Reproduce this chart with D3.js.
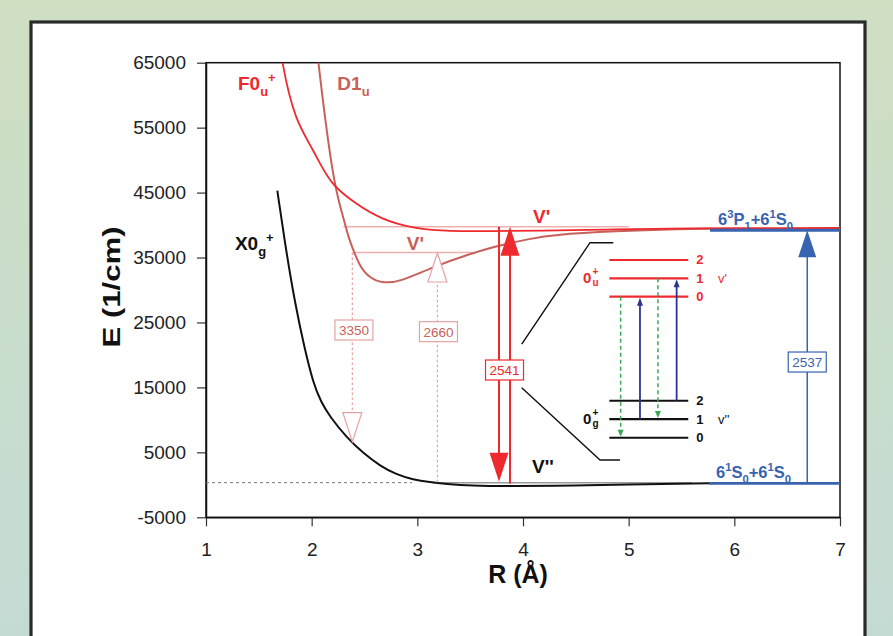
<!DOCTYPE html>
<html><head><meta charset="utf-8">
<script src="https://cdn.jsdelivr.net/npm/d3@7"></script>
<style>
html,body{margin:0;padding:0;}
body{width:893px;height:636px;overflow:hidden;background:linear-gradient(#cfdfc2,#c4dbd4);}
svg{display:block;font-family:"Liberation Sans",Arial,sans-serif;}
</style></head><body>
<svg id="c" width="893" height="636"></svg>
<script>
// ---------- data ----------
const xTicks = [1,2,3,4,5,6,7];
const yTicks = [-5000,5000,15000,25000,35000,45000,55000,65000];

// potential curves (R in Å, E in 1/cm)
const curveX0g = [[1.675,45300],[1.757,36150],[1.842,28000],[1.93,21200],[2.015,15630],[2.09,12700],[2.173,10490],[2.33,7300],[2.49,4850],[2.65,2900],[2.80,1600],[2.96,800],[3.12,400],[3.27,150],[3.5,-150],[3.9,-220],[4.5,-120],[5.0,60],[5.5,180],[5.8,240]];
const curveD1u = [[2.04,69000],[2.062,64900],[2.204,46430],[2.299,41290],[2.346,38200],[2.394,36160],[2.457,33580],[2.552,31800],[2.678,31050],[2.836,31250],[3.151,33580],[3.467,35390],[3.782,36930],[4.097,37960],[4.255,38470],[4.886,39080],[5.49,39390],[5.8,39450]];
const curveF0u = [[1.70,69000],[1.726,64900],[1.853,56700],[2.011,51560],[2.20,46430],[2.42,43350],[2.67,41040],[2.96,39650],[3.27,39130],[3.7,39080],[4.2,39150],[4.8,39300],[5.4,39450],[6.0,39520],[7.0,39550]];

// vibrational levels drawn on D1u well
const levelsD1u = [{E:39740,R0:2.30,R1:5.0},{E:35770,R0:2.39,R1:3.53}];
const groundLevel = {E:330,R0:3.15,R1:5.6};
const zeroLine = {E:330,R0:1,R1:2.95};

// atomic asymptotes
const asymptotes = [{E:39200,R0:5.77,R1:7},{E:230,R0:5.76,R1:7}];

// transitions (arrows)
const solidArrows = [
  {R:3.773,E0:39740,E1:480,color:"red"},
  {R:3.877,E0:200,E1:39740,color:"red"},
  {R:6.69,E0:230,E1:39200,color:"blue"}
];
const openArrows = [
  {R:2.385,E0:35770,E1:6640},
  {R:3.19,E0:400,E1:35700}
];
const boxLabels = [
  {t:"3350",R:2.40,E:23840,color:"muted"},
  {t:"2660",R:3.20,E:23580,color:"muted"},
  {t:"2541",R:3.825,E:17680,color:"red"},
  {t:"2537",R:6.69,E:18910,color:"blue"}
];

// inset level diagram
const insetR = [4.817,5.564];
const insetUpper = [{v:"2",E:34620},{v:"1",E:31800},{v:"0",E:28970}];
const insetLower = [{v:"2",E:12950},{v:"1",E:10130},{v:"0",E:7250}];
const pumpArrows = [{R:5.107,E0:10130,E1:28970},{R:5.454,E0:12950,E1:31800}];
const fluorArrows = [{R:4.924,E0:28970,E1:7250},{R:5.277,E0:31800,E1:10130}];
const connectors = [
  [[3.988,21680],[4.634,37280],[4.854,37280]],
  [[3.988,14950],[4.729,3820],[4.918,3820]]
];

// ---------- setup ----------
const col = {red:"#ee2a2e",muted:"#c8605b",pink:"#f0afaf",blue:"#3763b1",navy:"#2c3592",green:"#3aa955",dot:"#e8a0a0",boxMuted:"#e3a3a3"};
const svg = d3.select("#c");
const x = d3.scaleLinear().domain([1,7]).range([206,840]);
const y = d3.scaleLinear().domain([-5000,65000]).range([517.3,62.7]);

// outer panel
svg.append("rect").attr("x",31).attr("y",22).attr("width",834).attr("height",640)
  .attr("fill","#fff").attr("stroke","#2a2a2a").attr("stroke-width",3.2);

svg.append("defs").append("clipPath").attr("id","clip").append("rect")
  .attr("x",x(1)).attr("y",y(65000)).attr("width",x(7)-x(1)).attr("height",y(-5000)-y(65000));

// axes
const yAxis = d3.axisLeft(y).tickValues(yTicks).tickSize(9).tickSizeOuter(0).tickPadding(11).tickFormat(d=>String(d));
const xAxis = d3.axisBottom(x).tickValues(xTicks).tickSize(9).tickSizeOuter(0).tickPadding(16).tickFormat(d=>String(d));
const gy = svg.append("g").attr("transform",`translate(${x(1)},0)`).call(yAxis);
const gx = svg.append("g").attr("transform",`translate(0,${y(-5000)})`).call(xAxis);
[gx,gy].forEach(g=>{
  g.selectAll("text").attr("font-size",19).attr("fill","#222").attr("font-family","Liberation Sans, Arial, sans-serif");
  g.selectAll("line").attr("stroke","#333").attr("stroke-width",1.2);
  g.select(".domain").attr("stroke","#111").attr("stroke-width",1.5);
});
svg.append("rect").attr("x",x(1)).attr("y",y(65000)).attr("width",x(7)-x(1)).attr("height",y(-5000)-y(65000))
  .attr("fill","none").attr("stroke","#111").attr("stroke-width",1.5);

svg.append("text").attr("x",518).attr("y",583).attr("text-anchor","middle")
  .attr("font-size",25).attr("font-weight","bold").attr("fill","#111").text("R (Å)");
svg.append("text").attr("transform","translate(120,287) rotate(-90)").attr("text-anchor","middle")
  .attr("font-size",23).attr("font-weight","bold").attr("fill","#111")
  .attr("textLength",121).attr("lengthAdjust","spacingAndGlyphs").text("E (1/cm)");

const plot = svg.append("g").attr("clip-path","url(#clip)");
const line = d3.line().x(d=>x(d[0])).y(d=>y(d[1]));
const smooth = d3.line().x(d=>x(d[0])).y(d=>y(d[1])).curve(d3.curveCatmullRom.alpha(0.5));
const soft = d3.line().x(d=>x(d[0])).y(d=>y(d[1])).curve(d3.curveBasis);

// zero dashed line
plot.append("line").attr("x1",x(zeroLine.R0)).attr("x2",x(zeroLine.R1)).attr("y1",y(zeroLine.E)).attr("y2",y(zeroLine.E))
  .attr("stroke","#777").attr("stroke-width",1).attr("stroke-dasharray","3,3");
// ground level
plot.append("line").attr("x1",x(groundLevel.R0)).attr("x2",x(groundLevel.R1)).attr("y1",y(groundLevel.E)).attr("y2",y(groundLevel.E))
  .attr("stroke","#999").attr("stroke-width",1.4);
// D1u levels
plot.selectAll(".lev").data(levelsD1u).enter().append("line")
  .attr("x1",d=>x(d.R0)).attr("x2",d=>x(d.R1)).attr("y1",d=>y(d.E)).attr("y2",d=>y(d.E))
  .attr("stroke",col.pink).attr("stroke-width",1.6);

// curves
plot.append("path").attr("d",soft(curveX0g)).attr("fill","none").attr("stroke","#111").attr("stroke-width",2);
plot.append("path").attr("d",soft(curveD1u)).attr("fill","none").attr("stroke",col.muted).attr("stroke-width",2);
plot.append("path").attr("d",smooth(curveF0u)).attr("fill","none").attr("stroke",col.red).attr("stroke-width",1.8);

// asymptotes
plot.selectAll(".asy").data(asymptotes).enter().append("line")
  .attr("x1",d=>x(d.R0)).attr("x2",d=>x(d.R1)).attr("y1",d=>y(d.E)).attr("y2",d=>y(d.E))
  .attr("stroke",col.blue).attr("stroke-width",2.8);

// solid arrows
function tri(tx,ty,w,h,dir){ // dir=+1 points down, -1 up
  return `M${tx},${ty}L${tx-w/2},${ty-dir*h}L${tx+w/2},${ty-dir*h}Z`;
}
solidArrows.forEach(a=>{
  const c = a.color==="blue"?col.blue:col.red;
  const dir = a.E1<a.E0?1:-1;
  const h = a.color==="blue"?27:29, w = a.color==="blue"?18:19;
  plot.append("line").attr("x1",x(a.R)).attr("x2",x(a.R)).attr("y1",y(a.E0)).attr("y2",y(a.E1)-dir*h+dir*2)
    .attr("stroke",c).attr("stroke-width",a.color==="blue"?1.5:2);
  plot.append("path").attr("d",tri(x(a.R),y(a.E1),w,h,dir)).attr("fill",c);
});
// open arrows (dotted)
openArrows.forEach(a=>{
  const dir = a.E1<a.E0?1:-1;
  plot.append("line").attr("x1",x(a.R)).attr("x2",x(a.R)).attr("y1",y(a.E0)).attr("y2",y(a.E1)-dir*29)
    .attr("stroke",col.dot).attr("stroke-width",1.2).attr("stroke-dasharray","2.5,2.5");
  plot.append("path").attr("d",tri(x(a.R),y(a.E1),19,29,dir)).attr("fill","#fff")
    .attr("stroke",col.boxMuted).attr("stroke-width",1.2);
});
// box labels
const boxCol = {muted:[col.boxMuted,col.muted],red:[col.red,col.red],blue:[col.blue,col.blue]};
boxLabels.forEach(b=>{
  const [sc,tc] = boxCol[b.color];
  const cx = x(b.R), cy = y(b.E);
  svg.append("rect").attr("x",cx-19).attr("y",cy-10).attr("width",38).attr("height",20)
    .attr("fill","#fff").attr("stroke",sc).attr("stroke-width",1.2);
  svg.append("text").attr("x",cx).attr("y",cy+5).attr("text-anchor","middle")
    .attr("font-size",13.5).attr("fill",tc).text(b.t);
});

// rich text helper
function rich(px,py,parts,size,color,weight){
  const t = svg.append("text").attr("x",px).attr("y",py).attr("fill",color)
    .attr("font-size",size).attr("font-weight",weight||"bold");
  let shift=0;
  parts.forEach(p=>{
    const target = p.sub? size*0.3 : p.sup? -size*0.42 : 0;
    const ts = t.append("tspan").attr("dy",target-shift).text(p.t);
    shift = target;
    if(p.sub||p.sup) ts.attr("font-size",size*0.68);
  });
  return t;
}
rich(x(1.303),y(60780),[{t:"F0"},{t:"u",sub:1},{t:"+",sup:1}],19,col.red);
rich(x(2.243),y(60780),[{t:"D1"},{t:"u",sub:1}],19,col.muted);
rich(x(1.274),y(36160),[{t:"X0"},{t:"g",sub:1},{t:"+",sup:1}],19,"#111");
rich(x(2.90),y(36230),[{t:"V'"}],19,col.muted);
rich(x(4.095),y(40310),[{t:"V'"}],19,col.red);
rich(x(4.085),y(1820),[{t:"V''"}],19,"#111");
rich(x(5.845),y(40000),[{t:"6"},{t:"3",sup:1},{t:"P"},{t:"1",sub:1},{t:"+6"},{t:"1",sup:1},{t:"S"},{t:"0",sub:1}],16.5,col.blue);
rich(x(5.826),y(1050),[{t:"6"},{t:"1",sup:1},{t:"S"},{t:"0",sub:1},{t:"+6"},{t:"1",sup:1},{t:"S"},{t:"0",sub:1}],16.5,col.blue);

// ---------- inset ----------
const inset = svg.append("g");
connectors.forEach(c=>inset.append("path").attr("d",line(c)).attr("fill","none").attr("stroke","#111").attr("stroke-width",1.4));
[[insetUpper,col.red],[insetLower,"#111"]].forEach(([lv,c])=>{
  lv.forEach(l=>{
    inset.append("line").attr("x1",x(insetR[0])).attr("x2",x(insetR[1])).attr("y1",y(l.E)).attr("y2",y(l.E))
      .attr("stroke",c).attr("stroke-width",2.2);
    inset.append("text").attr("x",x(insetR[1])+8).attr("y",y(l.E)+4.5).attr("font-size",13)
      .attr("font-weight","bold").attr("fill",c).text(l.v);
  });
});
fluorArrows.forEach(a=>{
  inset.append("line").attr("x1",x(a.R)).attr("x2",x(a.R)).attr("y1",y(a.E0)).attr("y2",y(a.E1)-6)
    .attr("stroke",col.green).attr("stroke-width",1.5).attr("stroke-dasharray","4,3");
  inset.append("path").attr("d",tri(x(a.R),y(a.E1)-1,6,7,1)).attr("fill",col.green);
});
pumpArrows.forEach(a=>{
  inset.append("line").attr("x1",x(a.R)).attr("x2",x(a.R)).attr("y1",y(a.E0)).attr("y2",y(a.E1)+6)
    .attr("stroke",col.navy).attr("stroke-width",1.8);
  inset.append("path").attr("d",tri(x(a.R),y(a.E1)+1,6,8,-1)).attr("fill",col.navy);
});
// state labels of inset
function stacked(px,py,sup,sub,c){
  inset.append("text").attr("x",px).attr("y",py+5).attr("font-size",15).attr("font-weight","bold").attr("fill",c).text("0");
  inset.append("text").attr("x",px+9.5).attr("y",py-3).attr("font-size",10).attr("font-weight","bold").attr("fill",c).text(sup);
  inset.append("text").attr("x",px+9.5).attr("y",py+7.5).attr("font-size",10).attr("font-weight","bold").attr("fill",c).text(sub);
}
stacked(x(4.568),y(insetUpper[1].E),"+","u",col.red);
stacked(x(4.568),y(insetLower[1].E),"+","g","#111");
inset.append("text").attr("x",x(5.845)).attr("y",y(insetUpper[1].E)+4.5).attr("font-size",13).attr("fill",col.red).text("v'");
inset.append("text").attr("x",x(5.845)).attr("y",y(insetLower[1].E)+4.5).attr("font-size",13).attr("fill","#111").text("v''");
</script>
</body></html>
